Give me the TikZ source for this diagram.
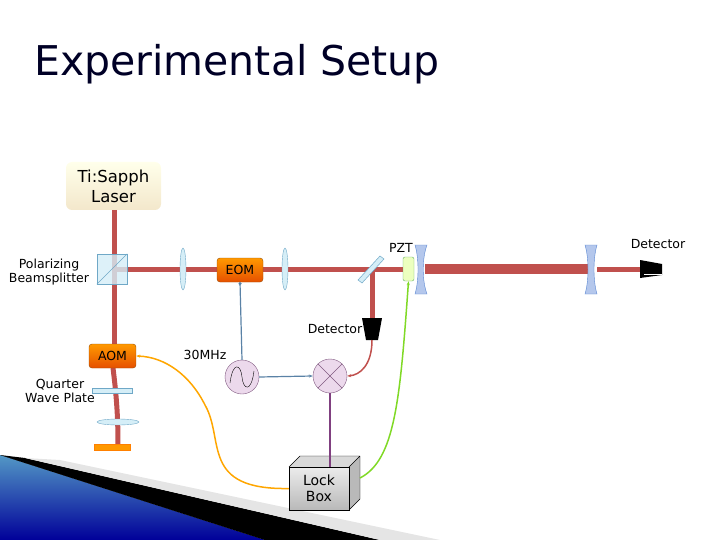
\documentclass[tikz,border=0pt]{standalone}
\usepackage{fontspec}
\setmainfont{DejaVu Sans}
\usetikzlibrary{arrows.meta,shapes.geometric}
\definecolor{beam}{HTML}{C0504D}
\definecolor{glass}{HTML}{D5EEF7}
\definecolor{glassd}{HTML}{6FA8C7}
\definecolor{mirr}{HTML}{B4C7EC}
\definecolor{sig}{HTML}{5A82A6}
\begin{document}
\begin{tikzpicture}[x=1pt,y=-1pt,
  lbl/.style={font=\fontsize{12.5}{14}\selectfont},
  orange box/.style={draw=orange!60!black,rounded corners=3pt,top color=orange!80!yellow,bottom color=orange!70!red!90!black,font=\fontsize{12.5}{14}\selectfont},
  lens/.style={draw=glassd,fill=glass,ellipse,inner sep=0pt},
  circ/.style={circle,draw=gray!70!violet,fill=violet!15,minimum size=34pt,inner sep=0pt},
  beamline/.style={beam,line width=5pt}]
\useasboundingbox (0,0) rectangle (720,540);
% decoration
\fill[top color=blue!40!cyan!50!gray!90,bottom color=blue!60!black] (0,455) -- (0,540) -- (265,540) -- cycle;
\fill[black] (0,455) -- (265,540) -- (380,540) -- (25,458) -- cycle;
\fill[gray!20] (25,458) -- (380,540) -- (440,540) -- (60,460) -- cycle;
% title
\node[font=\fontsize{41}{44}\selectfont,text=black!85!blue] (title) at (237,64) {Experimental Setup};
% beams
\draw[beamline] (114,210) -- (114,344);
\draw[beamline] (113,368) .. controls (117,400) and (118,420) .. (118,446);
\draw[beamline] (112,269) -- (403,269);
\draw[beam,line width=10pt] (425,269) -- (590,269);
\draw[beamline] (597,269) -- (642,269);
\draw[beamline] (372,269) -- (372,318);
% laser
\node[rounded corners=6pt,top color=yellow!8!white,bottom color=yellow!25!brown!25,minimum width=95pt,minimum height=48pt,align=center,font=\fontsize{16.5}{20}\selectfont] (laser) at (113.5,186) {Ti:Sapph\\Laser};
% PBS
\node[draw=glassd,fill=glass,fill opacity=0.8,minimum size=30pt,inner sep=0pt] (pbs) at (112,269) {};
\draw[glassd] (pbs.south west) -- (pbs.north east);
\node[lbl,align=center] at (49,272) {Polarizing\\Beamsplitter};
% lenses
\node[lens,minimum width=6pt,minimum height=42pt] (l1) at (183,269) {};
\node[lens,minimum width=6pt,minimum height=42pt] (l2) at (285,269) {};
\node[orange box,minimum width=46pt,minimum height=24pt] (eom) at (240,270) {EOM};
% pick-off
\draw[glassd,fill=glass,line width=0.5pt] (358,280) -- (380,256) -- (384,259) -- (362,283) -- cycle;
% detectors
\fill[black] (362,318) -- (382,318) -- (378,340) -- (366,340) -- cycle;
\coordinate (d1) at (372,340);
\node[lbl] at (335,329) {Detector};
\fill[black] (640,260) -- (662,264) -- (662,275) -- (640,278) -- cycle;
\draw[white,line width=0.6pt] (644,274) -- (662,274);
\node[lbl] at (658,244) {Detector};
% PZT
\node[draw=green!50!black!60,fill=green!30!yellow!25,rounded corners=2pt,minimum width=11pt,minimum height=24pt,inner sep=0pt] (pzt) at (408.5,269) {};
\node[lbl] at (401,248) {PZT};
% cavity mirrors
\draw[glassd!80!blue,fill=mirr] (415,245) -- (427,245) .. controls (422,258) and (422,281) .. (427,294) -- (415,294) .. controls (419,281) and (419,258) .. (415,245) -- cycle;
\draw[glassd!80!blue,fill=mirr] (585,245) -- (597,245) .. controls (593,258) and (593,281) .. (597,294) -- (585,294) .. controls (589,281) and (589,258) .. (585,245) -- cycle;
% AOM arm
\node[orange box,minimum width=47pt,minimum height=24pt] (aom) at (112.5,356) {AOM};
\node[draw=glassd,fill=glass,minimum width=40pt,minimum height=5pt,inner sep=0pt] (qwp) at (112,390.5) {};
\node[lbl,align=center] at (60,391) {Quarter\\Wave Plate};
\node[lens,minimum width=42pt,minimum height=6pt] (l3) at (118,422) {};
\node[fill=orange!80!yellow,draw=orange,minimum width=36pt,minimum height=6pt,inner sep=0pt] (m) at (112,447) {};
% electronics
\node[circ] (osc) at (242,377) {};
\draw[black] (230,383) .. controls (233,360) and (241,365) .. (242,377) .. controls (243,389) and (251,394) .. (254,371);
\node[circ] (mix) at (330,376) {};
\draw[gray!70!violet] (mix.north west) -- (mix.south east) (mix.north east) -- (mix.south west);
\node[lbl] at (205,355) {30MHz};
% lock box
\fill[gray!30] (289,467) -- (300,456) -- (360,456) -- (349,467) -- cycle;
\fill[gray!55] (349,467) -- (360,456) -- (360,499) -- (349,510) -- cycle;
\draw (289,467) -- (300,456) -- (360,456) -- (360,499) -- (349,510) (349,467) -- (360,456);
\node[draw,top color=gray!15,bottom color=gray!55,minimum width=60pt,minimum height=43pt,inner sep=0pt,align=center,font=\fontsize{14}{16}\selectfont] (lock) at (319,488.5) {Lock\\Box};
% signals
\draw[sig,line width=1.2pt,-{Circle[length=3pt]}] (osc.north) -- (eom.south);
\draw[sig,line width=1.2pt,-{Stealth[length=4pt]}] (osc.east) -- (mix.west);
\draw[beam,line width=1.5pt,-{Stealth[length=4pt]}] (d1) .. controls (372,365) and (360,375) .. (mix.east);
\draw[violet!50!gray,line width=1.5pt] (mix.south) -- (lock.north -| mix.south);
\draw[orange!70!yellow,line width=1.5pt,-{Stealth[length=4pt]}] (lock.west) .. controls (200,490) and (225,440) .. (205,405) .. controls (190,375) and (165,357) .. (aom.east);
\draw[green!50!yellow!70!gray,line width=1.5pt,-{Stealth[length=4pt]}] (360,478) .. controls (395,460) and (400,400) .. (pzt.south);
\end{tikzpicture}
\end{document}
